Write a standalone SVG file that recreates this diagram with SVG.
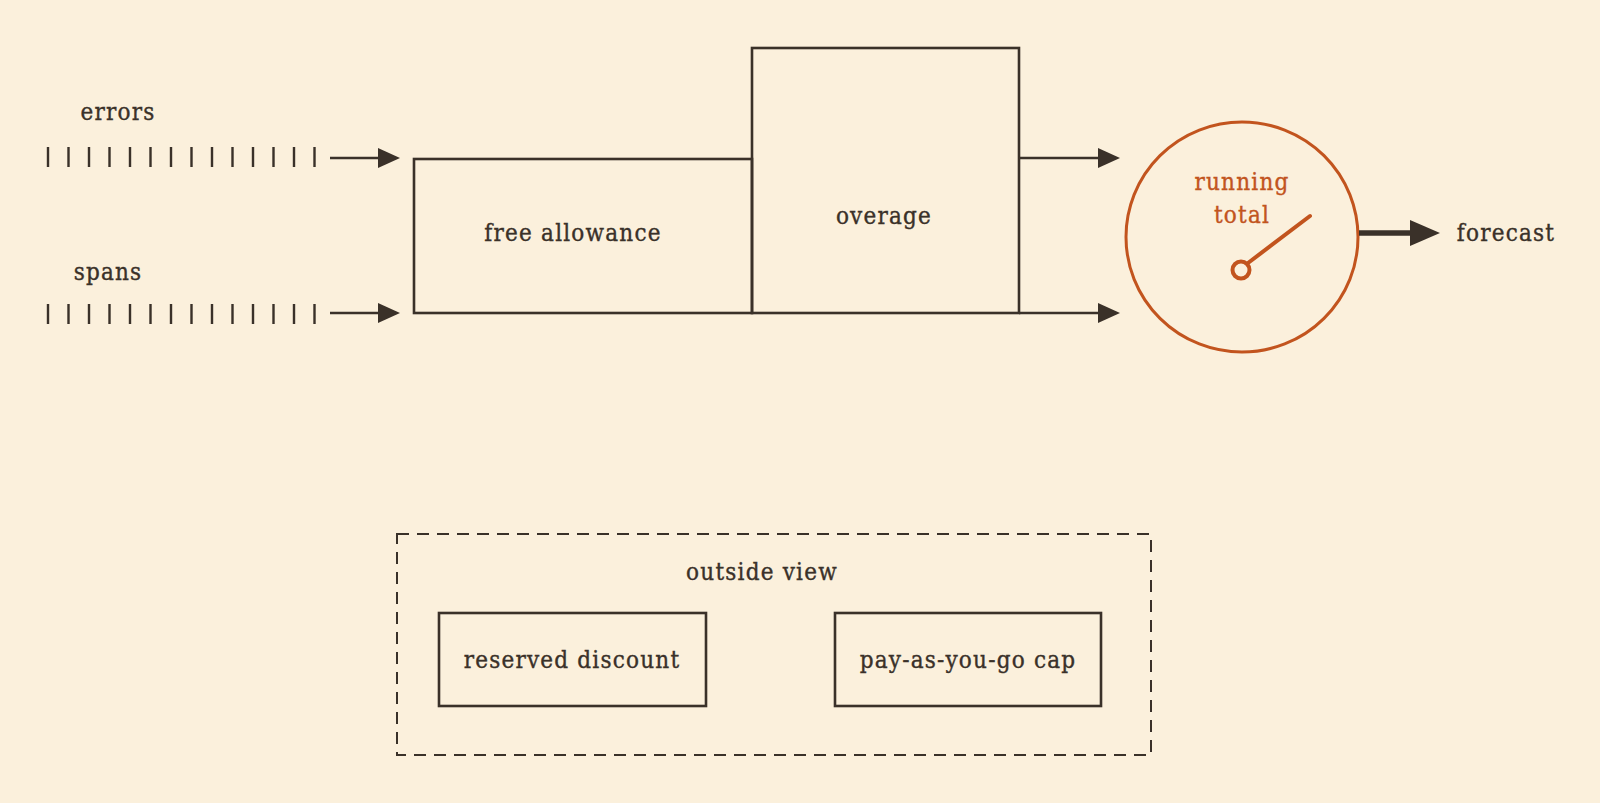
<svg xmlns="http://www.w3.org/2000/svg" width="1600" height="803" viewBox="0 0 1600 803">
<style>
.t{font-family:"DejaVu Serif Condensed","DejaVu Serif",serif;font-stretch:condensed;font-size:24px;letter-spacing:1.2px;fill:#3a3129;stroke:#3a3129;stroke-width:0.35;text-anchor:middle}
.o{fill:#c2541e;stroke:#c2541e}
.box{fill:none;stroke:#3a3129;stroke-width:2.6}
.ln{stroke:#3a3129;stroke-width:2.6;fill:none}
.tick{stroke:#3a3129;stroke-width:2.4}
</style>
<defs>
<marker id="ah" viewBox="0 0 22 20" refX="12" refY="10" markerWidth="22" markerHeight="20" markerUnits="userSpaceOnUse" orient="auto">
<path d="M0,0 L22,10 L0,20 z" fill="#3a3129"/>
</marker>
<marker id="ah2" viewBox="0 0 30 26" refX="12" refY="13" markerWidth="30" markerHeight="26" markerUnits="userSpaceOnUse" orient="auto">
<path d="M0,0 L30,13 L0,26 z" fill="#3a3129"/>
</marker>
</defs>
<rect width="1600" height="803" fill="#fbf0dc"/>
<g id="errors">
<text class="t" x="118" y="120">errors</text>
<path class="tick" d="M48,147v20M68.5,147v20M89,147v20M109.5,147v20M130,147v20M150.5,147v20M171,147v20M191.5,147v20M212,147v20M232.5,147v20M253,147v20M273.5,147v20M294,147v20M314.5,147v20"/>
</g>
<g id="spans">
<text class="t" x="108" y="280">spans</text>
<path class="tick" d="M48,304v20M68.5,304v20M89,304v20M109.5,304v20M130,304v20M150.5,304v20M171,304v20M191.5,304v20M212,304v20M232.5,304v20M253,304v20M273.5,304v20M294,304v20M314.5,304v20"/>
</g>
<g id="free-allowance">
<rect class="box" x="414" y="159" width="338" height="154"/>
<text class="t" x="573" y="241">free allowance</text>
</g>
<g id="overage">
<rect class="box" x="752" y="48" width="267" height="265"/>
<text class="t" x="884" y="224">overage</text>
</g>
<g id="running-total">
<ellipse cx="1242" cy="237" rx="116" ry="115" fill="none" stroke="#c2541e" stroke-width="3"/>
<text class="t o" x="1242" y="190">running</text>
<text class="t o" x="1242" y="223">total</text>
<line x1="1248" y1="263" x2="1310" y2="216" stroke="#c2541e" stroke-width="4" stroke-linecap="round"/>
<circle cx="1241" cy="270" r="8.5" fill="#fbf0dc" stroke="#c2541e" stroke-width="4"/>
</g>
<g id="forecast">
<text class="t" x="1506" y="241">forecast</text>
</g>
<g id="outside-view">
<rect x="397" y="534" width="754" height="221" fill="none" stroke="#3a3129" stroke-width="2" stroke-dasharray="12,8"/>
<text class="t" x="762" y="580">outside view</text>
</g>
<g id="reserved-discount">
<rect class="box" x="439" y="613" width="267" height="93"/>
<text class="t" x="572" y="668">reserved discount</text>
</g>
<g id="payg-cap">
<rect class="box" x="835" y="613" width="266" height="93"/>
<text class="t" x="968" y="668">pay-as-you-go cap</text>
</g>
<g id="connectors">
<line class="ln" x1="330" y1="158" x2="390" y2="158" marker-end="url(#ah)"/>
<line class="ln" x1="330" y1="313" x2="390" y2="313" marker-end="url(#ah)"/>
<line class="ln" x1="1019" y1="158" x2="1110" y2="158" marker-end="url(#ah)"/>
<line class="ln" x1="1019" y1="313" x2="1110" y2="313" marker-end="url(#ah)"/>
<line x1="1359" y1="233" x2="1422" y2="233" stroke="#3a3129" stroke-width="5.5" marker-end="url(#ah2)"/>
</g>
</svg>
